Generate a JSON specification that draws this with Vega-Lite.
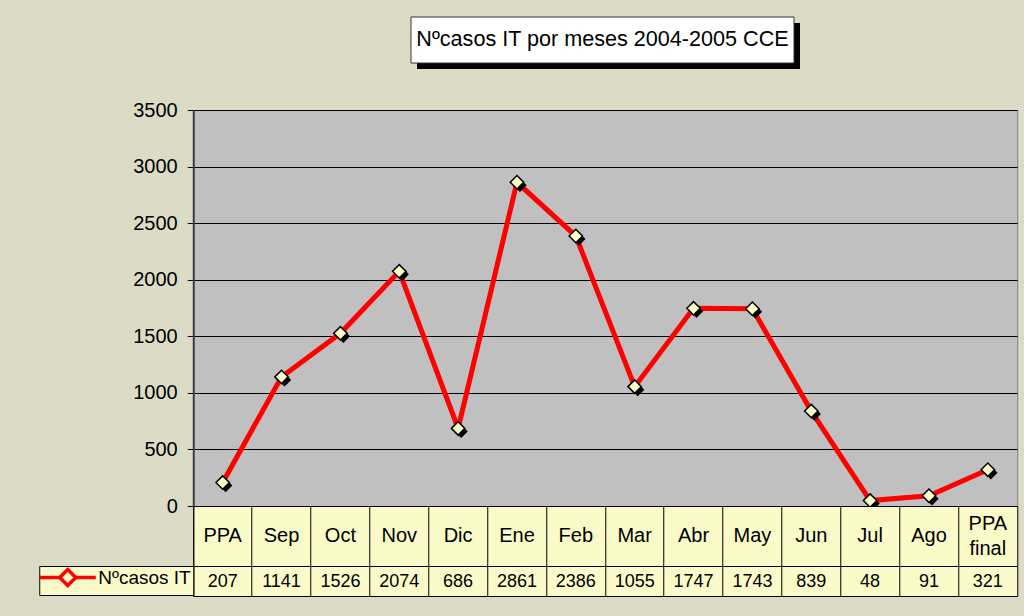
{
  "$schema": "https://vega.github.io/schema/vega-lite/v6.json",
  "background": "#dcdcc6",
  "padding": {"top": 16, "left": 38, "right": 7, "bottom": 20},
  "datasets": {
    "casos": [
      {"mes": "PPA", "casos": 207, "serie": "Nºcasos IT"},
      {"mes": "Sep", "casos": 1141, "serie": "Nºcasos IT"},
      {"mes": "Oct", "casos": 1526, "serie": "Nºcasos IT"},
      {"mes": "Nov", "casos": 2074, "serie": "Nºcasos IT"},
      {"mes": "Dic", "casos": 686, "serie": "Nºcasos IT"},
      {"mes": "Ene", "casos": 2861, "serie": "Nºcasos IT"},
      {"mes": "Feb", "casos": 2386, "serie": "Nºcasos IT"},
      {"mes": "Mar", "casos": 1055, "serie": "Nºcasos IT"},
      {"mes": "Abr", "casos": 1747, "serie": "Nºcasos IT"},
      {"mes": "May", "casos": 1743, "serie": "Nºcasos IT"},
      {"mes": "Jun", "casos": 839, "serie": "Nºcasos IT"},
      {"mes": "Jul", "casos": 48, "serie": "Nºcasos IT"},
      {"mes": "Ago", "casos": 91, "serie": "Nºcasos IT"},
      {"mes": "PPA final", "casos": 321, "serie": "Nºcasos IT"}
    ],
    "titulo": [{"titulo": "Nºcasos IT por meses 2004-2005 CCE"}]
  },
  "center": true,
  "spacing": 30,
  "resolve": {"scale": {"shape": "independent"}, "legend": {"shape": "independent"}},
  "vconcat": [
    {
      "width": 383,
      "height": 46,
      "view": {"stroke": null},
      "data": {"name": "titulo"},
      "layer": [
        {
          "mark": {"type": "rect", "color": "black", "xOffset": 6, "x2Offset": 6, "yOffset": 6, "y2Offset": 6},
          "encoding": {"x": {"value": 0}, "x2": {"value": "width"}, "y": {"value": 0}, "y2": {"value": "height"}}
        },
        {
          "mark": {"type": "rect", "fill": "white", "stroke": "#333333", "strokeWidth": 1},
          "encoding": {"x": {"value": 0}, "x2": {"value": "width"}, "y": {"value": 0}, "y2": {"value": "height"}}
        },
        {
          "mark": {"type": "text", "fontSize": 21.6, "font": "Liberation Sans", "color": "black"},
          "encoding": {"text": {"field": "titulo", "type": "nominal"}}
        }
      ]
    },
    {
      "bounds": "flush",
      "spacing": 0,
      "resolve": {"scale": {"x": "independent", "shape": "independent"}, "legend": {"shape": "independent"}},
      "vconcat": [
        {
          "width": 824,
          "height": 396,
          "data": {"name": "casos"},
          "view": {"fill": "#c0c0c0", "stroke": "#808080"},
          "encoding": {
            "x": {"field": "mes", "type": "nominal", "sort": null, "scale": {"type": "point", "padding": 0.5}, "axis": null},
            "y": {
              "field": "casos", "type": "quantitative",
              "scale": {"domain": [0, 3500]},
              "axis": {
                "values": [0, 500, 1000, 1500, 2000, 2500, 3000, 3500],
                "format": "d",
                "title": null,
                "labelFontSize": 20, "labelFont": "Liberation Sans", "labelColor": "black",
                "labelPadding": 10,
                "tickColor": "black", "tickSize": 6,
                "domainColor": "#404040", "domainWidth": 2,
                "grid": true, "gridColor": "black", "gridWidth": 1, "gridOpacity": 1
              }
            }
          },
          "layer": [
            {"mark": {"type": "line", "color": "#ff0000", "strokeWidth": 5}},
            {"mark": {"type": "point", "shape": "diamond", "filled": true, "color": "black", "size": 180, "opacity": 1, "xOffset": 3, "yOffset": 3}},
            {"mark": {"type": "point", "shape": "diamond", "filled": true, "fill": "#ffffcc", "stroke": "black", "strokeWidth": 1.5, "size": 180, "opacity": 1}}
          ]
        },
        {
          "width": 824,
          "height": 60,
          "data": {"name": "casos"},
          "view": {"fill": "#fbfbc9", "stroke": "black"},
          "encoding": {
            "x": {
              "field": "mes", "type": "nominal", "sort": null,
              "scale": {"type": "band", "paddingInner": 0, "paddingOuter": 0},
              "axis": {"title": null, "labels": false, "ticks": false, "domain": false, "grid": true, "bandPosition": 0, "gridColor": "black", "gridOpacity": 1, "gridWidth": 1}
            },
            "text": {"field": "mes", "type": "nominal"}
          },
          "layer": [
            {
              "transform": [{"filter": "datum.mes !== 'PPA final'"}],
              "mark": {"type": "text", "fontSize": 20, "font": "Liberation Sans", "color": "black"}
            },
            {
              "transform": [{"filter": "datum.mes === 'PPA final'"}],
              "mark": {"type": "text", "fontSize": 20, "font": "Liberation Sans", "color": "black", "lineBreak": " ", "lineHeight": 25, "dy": -12}
            }
          ]
        },
        {
          "width": 824,
          "height": 30,
          "data": {"name": "casos"},
          "view": {"fill": "#fbfbc9", "stroke": "black"},
          "encoding": {
            "x": {
              "field": "mes", "type": "nominal", "sort": null,
              "scale": {"type": "band", "paddingInner": 0, "paddingOuter": 0},
              "axis": {"title": null, "labels": false, "ticks": false, "domain": false, "grid": true, "bandPosition": 0, "gridColor": "black", "gridOpacity": 1, "gridWidth": 1}
            }
          },
          "layer": [
            {
              "mark": {"type": "text", "fontSize": 18, "font": "Liberation Sans", "color": "black", "dy": 1},
              "encoding": {"text": {"field": "casos", "type": "quantitative", "format": "d"}}
            },
            {
              "mark": {"type": "point", "filled": false, "stroke": "#ff0000", "strokeWidth": 3.5, "size": 100, "opacity": 0},
              "encoding": {
                "shape": {
                  "field": "serie", "type": "nominal",
                  "scale": {"range": ["M-5.6,0H-1.6M1.6,0H5.6M0,-1.6L1.6,0L0,1.6L-1.6,0Z"]},
                  "legend": {
                    "orient": "left", "title": null, "offset": 0,
                    "strokeColor": "black", "fillColor": "#fbfbc9", "padding": 2,
                    "symbolSize": 100, "symbolStrokeWidth": 3.5, "symbolOpacity": 1,
                    "symbolStrokeColor": "#ff0000", "symbolFillColor": "#ffffcc",
                    "symbolOffset": 17, "labelOffset": 21,
                    "labelFontSize": 19, "labelFont": "Liberation Sans", "labelColor": "black"
                  }
                }
              }
            }
          ]
        }
      ]
    }
  ]
}
